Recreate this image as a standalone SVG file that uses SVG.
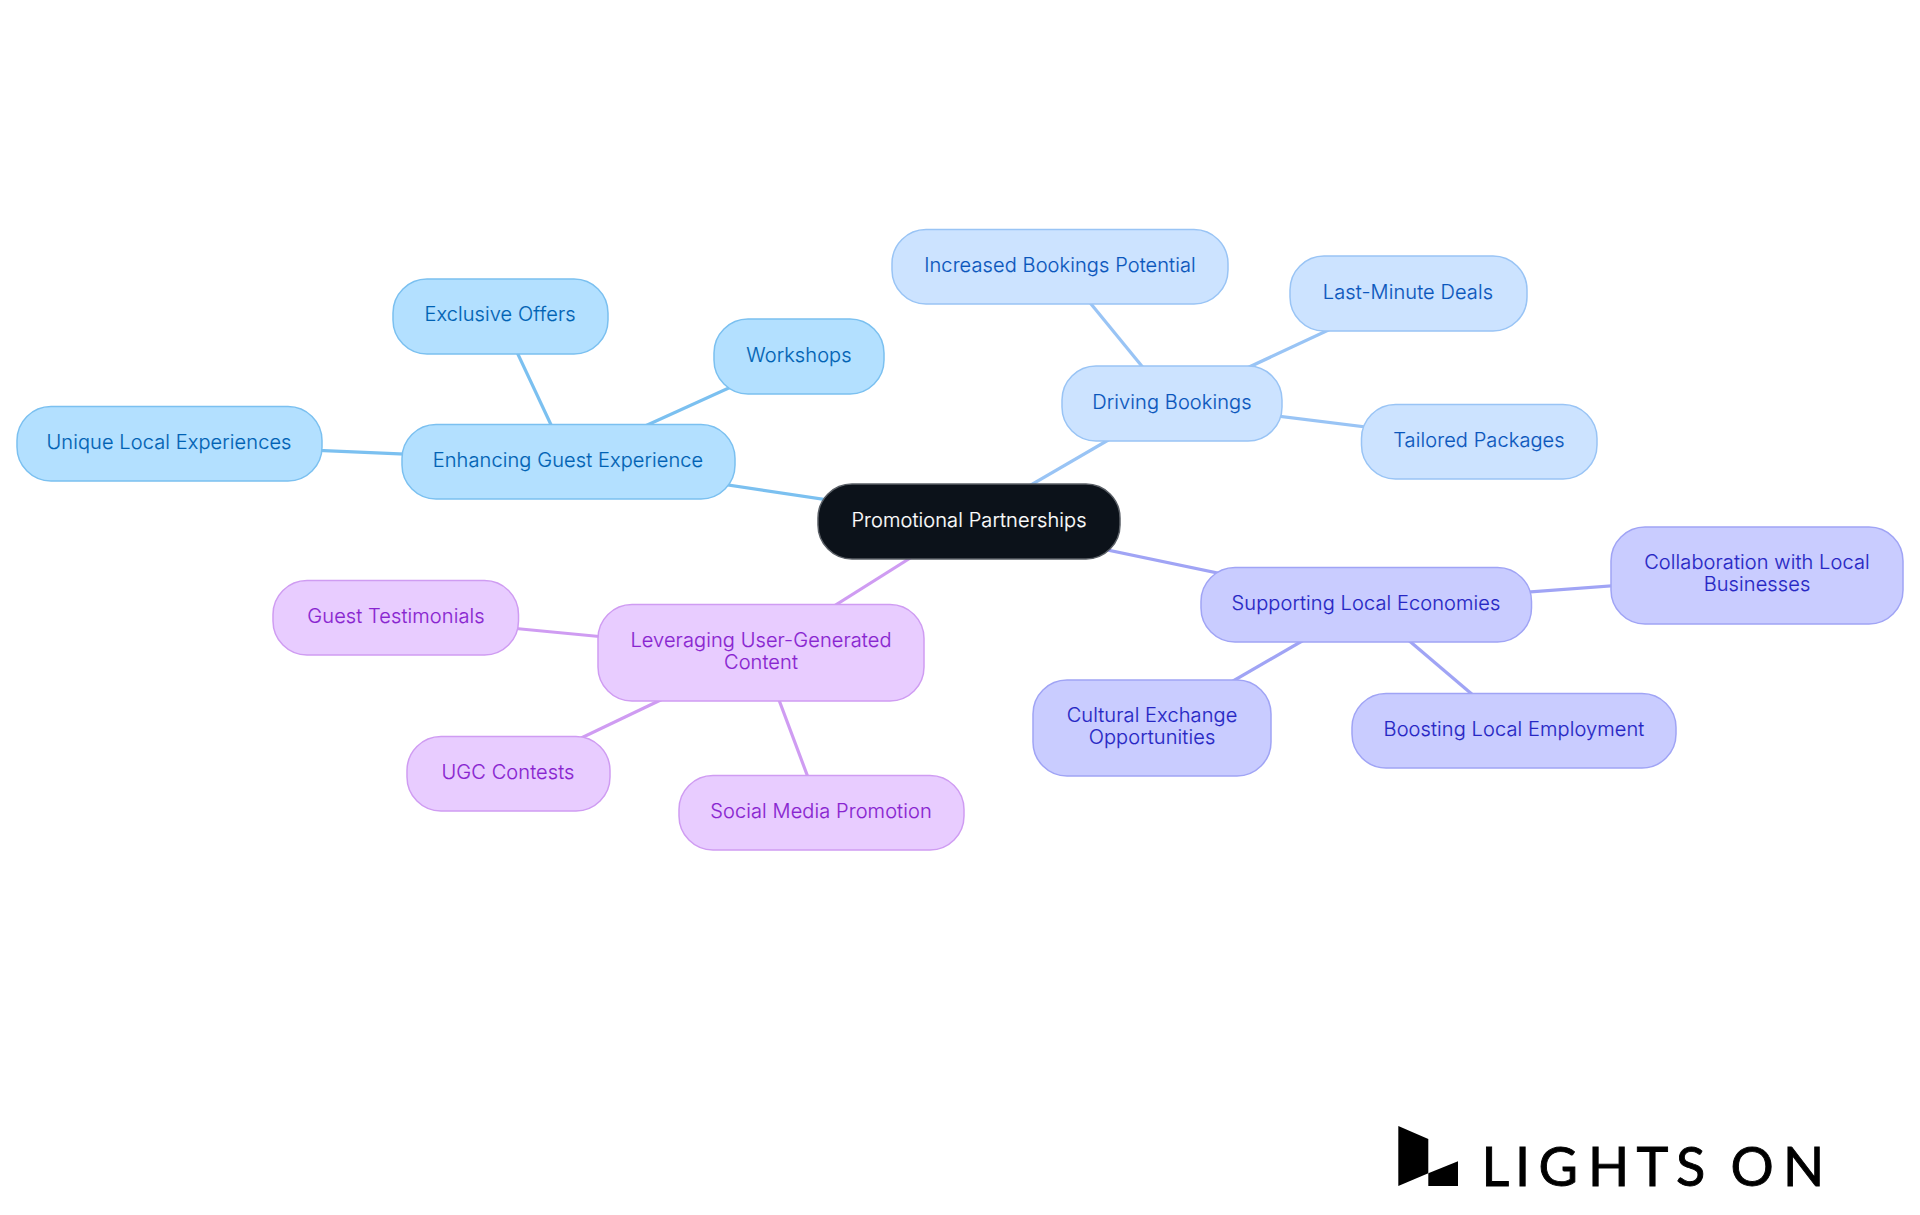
<svg xmlns="http://www.w3.org/2000/svg" width="1920" height="1215" viewBox="0 0 1920 1215">
<style>
text{font-family:"Inter","Noto Sans","Liberation Sans",sans-serif;font-size:20px;font-weight:300;letter-spacing:.1px;text-anchor:middle}
.n{stroke-width:1.5}
.c1 rect{fill:#b3e0ff;stroke:#7bc0f0}.c1 text{fill:#0062b4;stroke:#0062b4;stroke-width:.15}
.c2 rect{fill:#cce3ff;stroke:#99c4f5}.c2 text{fill:#0a56bc;stroke:#0a56bc;stroke-width:.15}
.c3 rect{fill:#c9ccff;stroke:#a0a4f5}.c3 text{fill:#2626c4;stroke:#2626c4;stroke-width:.15}
.c4 rect{fill:#e8ccff;stroke:#cf9cf2}.c4 text{fill:#8824d0;stroke:#8824d0;stroke-width:.15}
#connectors line{stroke-width:3.2;fill:none}
.l1{stroke:#7bc0f0}.l2{stroke:#99c4f5}.l3{stroke:#a0a4f5}.l4{stroke:#cf9cf2}
</style>
<rect width="1920" height="1215" fill="#ffffff"/>
<g id="connectors">
<line class="l1" x1="969" y1="521" x2="568" y2="461"/>
<line class="l1" x1="568" y1="461" x2="169" y2="444"/>
<line class="l1" x1="568" y1="461" x2="500" y2="316"/>
<line class="l1" x1="568" y1="461" x2="799" y2="356"/>
<line class="l2" x1="969" y1="521" x2="1172" y2="403"/>
<line class="l2" x1="1172" y1="403" x2="1060" y2="266"/>
<line class="l2" x1="1172" y1="403" x2="1408" y2="293"/>
<line class="l2" x1="1172" y1="403" x2="1479" y2="441"/>
<line class="l3" x1="969" y1="521" x2="1366" y2="604"/>
<line class="l3" x1="1366" y1="604" x2="1757" y2="575"/>
<line class="l3" x1="1366" y1="604" x2="1152" y2="728"/>
<line class="l3" x1="1366" y1="604" x2="1514" y2="730"/>
<line class="l4" x1="969" y1="521" x2="761" y2="652"/>
<line class="l4" x1="761" y1="652" x2="396" y2="617"/>
<line class="l4" x1="761" y1="652" x2="508" y2="773"/>
<line class="l4" x1="761" y1="652" x2="821" y2="812"/>
</g>
<g id="root"><rect x="818" y="484" width="302" height="75" rx="34" fill="#0c121a" stroke="#5a5f66" stroke-width="1.5"/><text x="969" y="527" fill="#ffffff" stroke="#ffffff" stroke-width=".2">Promotional Partnerships</text></g>
<g id="enhancing" class="c1 n"><rect x="402" y="424.5" width="333" height="74.5" rx="34"/><text x="568" y="467">Enhancing Guest Experience</text></g>
<g id="unique" class="c1 n"><rect x="17" y="406.5" width="305" height="74.5" rx="34"/><text x="169" y="449">Unique Local Experiences</text></g>
<g id="exclusive" class="c1 n"><rect x="393" y="279" width="215" height="75" rx="34"/><text x="500" y="321">Exclusive Offers</text></g>
<g id="workshops" class="c1 n"><rect x="714" y="319" width="170" height="75" rx="34"/><text x="799" y="362">Workshops</text></g>
<g id="driving" class="c2 n"><rect x="1062" y="366" width="220" height="75" rx="34"/><text x="1172" y="409">Driving Bookings</text></g>
<g id="increased" class="c2 n"><rect x="892" y="229.5" width="336" height="74.5" rx="34"/><text x="1060" y="272">Increased Bookings Potential</text></g>
<g id="lastminute" class="c2 n"><rect x="1290" y="256" width="237" height="75" rx="34"/><text x="1408" y="299">Last-Minute Deals</text></g>
<g id="tailored" class="c2 n"><rect x="1361.5" y="404.5" width="235.5" height="74.5" rx="34"/><text x="1479" y="447">Tailored Packages</text></g>
<g id="supporting" class="c3 n"><rect x="1201" y="567.5" width="330.5" height="74.5" rx="34"/><text x="1366" y="610">Supporting Local Economies</text></g>
<g id="collaboration" class="c3 n"><rect x="1611" y="527" width="292" height="97" rx="34"/><text x="1757" y="569">Collaboration with Local</text><text x="1757" y="591">Businesses</text></g>
<g id="cultural" class="c3 n"><rect x="1033" y="680" width="238" height="96" rx="34"/><text x="1152" y="722">Cultural Exchange</text><text x="1152" y="744">Opportunities</text></g>
<g id="boosting" class="c3 n"><rect x="1352" y="693.5" width="324" height="74.5" rx="34"/><text x="1514" y="736">Boosting Local Employment</text></g>
<g id="leveraging" class="c4 n"><rect x="598" y="604.5" width="326" height="96.5" rx="34"/><text x="761" y="647">Leveraging User-Generated</text><text x="761" y="669">Content</text></g>
<g id="guest" class="c4 n"><rect x="273" y="580.5" width="245.5" height="74.5" rx="34"/><text x="396" y="623">Guest Testimonials</text></g>
<g id="ugc" class="c4 n"><rect x="407" y="736.5" width="203" height="74.5" rx="34"/><text x="508" y="779">UGC Contests</text></g>
<g id="social" class="c4 n"><rect x="679" y="775.5" width="285" height="74.5" rx="34"/><text x="821" y="818">Social Media Promotion</text></g>
<g id="logo">
<polygon points="1398.3,1126 1428.3,1139 1428.3,1173.3 1398.3,1186" fill="#000"/>
<polygon points="1428.3,1173.3 1458,1161.3 1458,1186 1428.3,1186" fill="#000"/>
<text x="1481.5 1515 1538.5 1588 1636.5 1676 1700 1730.5 1783" y="1186" style="font-family:Lato,'Liberation Sans',sans-serif;font-size:54px;font-weight:400;letter-spacing:0;text-anchor:start" fill="#000" stroke="#000" stroke-width="0.9">LIGHTS ON</text>
</g>
</svg>
